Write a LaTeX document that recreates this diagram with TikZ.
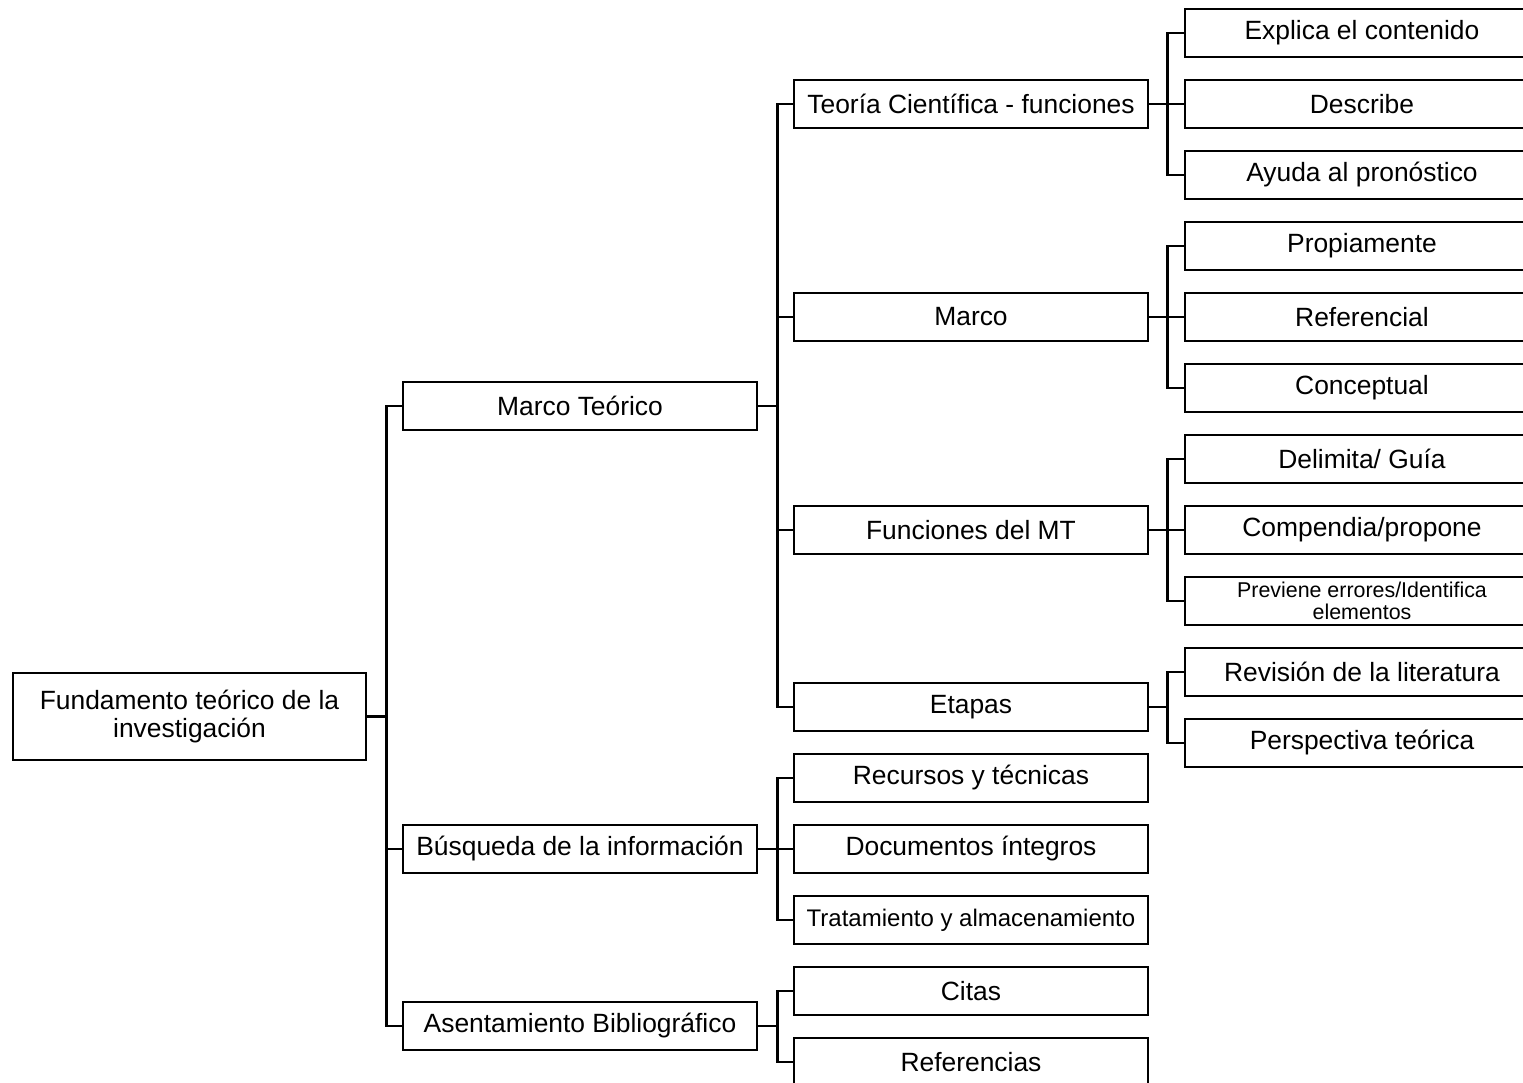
\documentclass[tikz,border=0pt]{standalone}
\usepackage{fontspec}
\setmainfont{Liberation Sans}
\begin{document}
\begin{tikzpicture}[x=0.5pt,y=-0.5pt,
  box/.style={draw, line width=1.4pt, rectangle, inner sep=0pt,
    minimum width=177pt, minimum height=24pt, align=center,
    font=\fontsize{13.2}{14}\selectfont},
  smallbox/.style={box, font=\fontsize{12}{13}\selectfont},
  tinybox/.style={box, font=\fontsize{10.7}{11}\selectfont},
  link/.style={line width=1.4pt}]
\useasboundingbox (0,0) rectangle (1523,1083);
\clip (0,0) rectangle (1523,1083);

% root
\node[box, minimum width=176.5pt, minimum height=43.5pt] (root) at (189.5,716.5)
  {Fundamento teórico de la\\investigación};

% first level
\node[box] (mt)  at (580,406) {Marco Teórico};
\node[box] (bus) at (580,849) {Búsqueda de la información};
\node[box] (ase) at (580,1026) {Asentamiento Bibliográfico};

% second level
\node[box] (tc)  at (971,104) {Teoría Científica - funciones};
\node[box] (mar) at (971,317) {Marco};
\node[box] (fun) at (971,530) {Funciones del MT};
\node[box] (eta) at (971,707) {Etapas};
\node[box] (rec) at (971,778) {Recursos y técnicas};
\node[box] (doc) at (971,849) {Documentos íntegros};
\node[smallbox] (tra) at (971,920) {Tratamiento y almacenamiento};
\node[box] (cit) at (971,991) {Citas};
\node[box] (ref) at (971,1062) {Referencias};

% third level
\node[box] (exp) at (1362,33)  {Explica el contenido};
\node[box] (des) at (1362,104) {Describe};
\node[box] (ayu) at (1362,175) {Ayuda al pronóstico};
\node[box] (pro) at (1362,246) {Propiamente};
\node[box] (rfl) at (1362,317) {Referencial};
\node[box] (con) at (1362,388) {Conceptual};
\node[box] (del) at (1362,459) {Delimita/ Guía};
\node[box] (com) at (1362,530) {Compendia/propone};
\node[tinybox] (pre) at (1362,601) {Previene errores/Identifica\\elementos};
\node[box] (rev) at (1362,672) {Revisión de la literatura};
\node[box] (per) at (1362,743) {Perspectiva teórica};

% connectors
\foreach \c in {mt,bus,ase} \draw[link] (root.east) -- ++(19,0) |- (\c.west);
\foreach \c in {tc,mar,fun,eta} \draw[link] (mt.east) -- ++(19,0) |- (\c.west);
\foreach \c in {rec,doc,tra} \draw[link] (bus.east) -- ++(19,0) |- (\c.west);
\foreach \c in {cit,ref} \draw[link] (ase.east) -- ++(19,0) |- (\c.west);
\foreach \c in {exp,des,ayu} \draw[link] (tc.east) -- ++(18,0) |- (\c.west);
\foreach \c in {pro,rfl,con} \draw[link] (mar.east) -- ++(18,0) |- (\c.west);
\foreach \c in {del,com,pre} \draw[link] (fun.east) -- ++(18,0) |- (\c.west);
\foreach \c in {rev,per} \draw[link] (eta.east) -- ++(18,0) |- (\c.west);
\end{tikzpicture}
\end{document}
